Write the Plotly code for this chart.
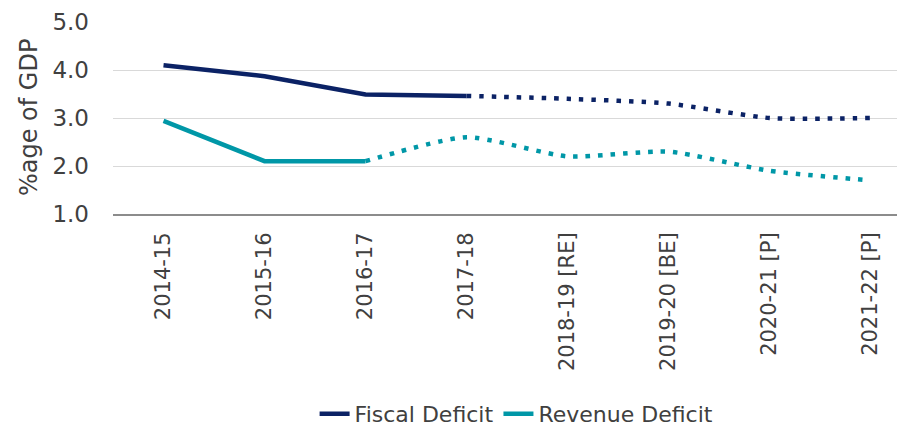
import plotly.graph_objects as go

categories = ["2014-15", "2015-16", "2016-17", "2017-18", "2018-19 [RE]",
              "2019-20 [BE]", "2020-21 [P]", "2021-22 [P]"]
fiscal_deficit = [4.1, 3.87, 3.49, 3.46, 3.4, 3.3, 3.0, 3.0]
revenue_deficit = [2.94, 2.1, 2.1, 2.6, 2.2, 2.3, 1.9, 1.7]
fiscal_actual_end = 3    # last index drawn solid
revenue_actual_end = 2

NAVY = "#0B2265"
TEAL = "#0097A7"
TXT = "#404040"
FONT = "DejaVu Sans"

fig = go.Figure()

def add_series(name, values, end, color):
    fig.add_trace(go.Scatter(
        x=categories[:end + 1], y=values[:end + 1], mode="lines", name=name,
        line=dict(color=color, width=4.5), showlegend=True, hoverinfo="skip"))
    fig.add_trace(go.Scatter(
        x=categories[end:], y=values[end:], mode="lines", name=name,
        line=dict(color=color, width=4.5, dash="4.5px,8px", shape="spline", smoothing=0.6),
        showlegend=False, hoverinfo="skip"))

add_series("Fiscal Deficit", fiscal_deficit, fiscal_actual_end, NAVY)
add_series("Revenue Deficit", revenue_deficit, revenue_actual_end, TEAL)

fig.add_annotation(
    text="%age of GDP", xref="paper", yref="paper", x=-0.106, y=0.5,
    xanchor="center", yanchor="middle", textangle=-90, showarrow=False,
    font=dict(size=24, color=TXT, family=FONT))

fig.update_layout(
    width=897, height=419,
    margin=dict(l=105, r=0, t=14, b=213),
    paper_bgcolor="white", plot_bgcolor="white",
    font=dict(family=FONT, color=TXT, size=16),
    legend=dict(orientation="h", xref="container", yref="container",
                x=0.567, xanchor="center", y=0.031, yanchor="middle",
                font=dict(size=22, color=TXT), traceorder="normal"),
    xaxis=dict(
        type="category", categoryorder="array", categoryarray=categories,
        range=[-0.5, 7.34], tickangle=-90, showgrid=False, automargin=False,
        showline=True, linecolor="#8c8c8c", linewidth=2,
        ticks="", ticklabelstandoff=8, tickfont=dict(size=21, color=TXT), fixedrange=True),
    yaxis=dict(
        range=[1, 5], dtick=1, tickformat=".1f", showgrid=True, automargin=False,
        gridcolor="#d9d9d9", gridwidth=1, zeroline=False, showline=False,
        ticks="", ticklabelstandoff=23, tickfont=dict(size=23, color=TXT)),
)

fig.write_html("out.html")
